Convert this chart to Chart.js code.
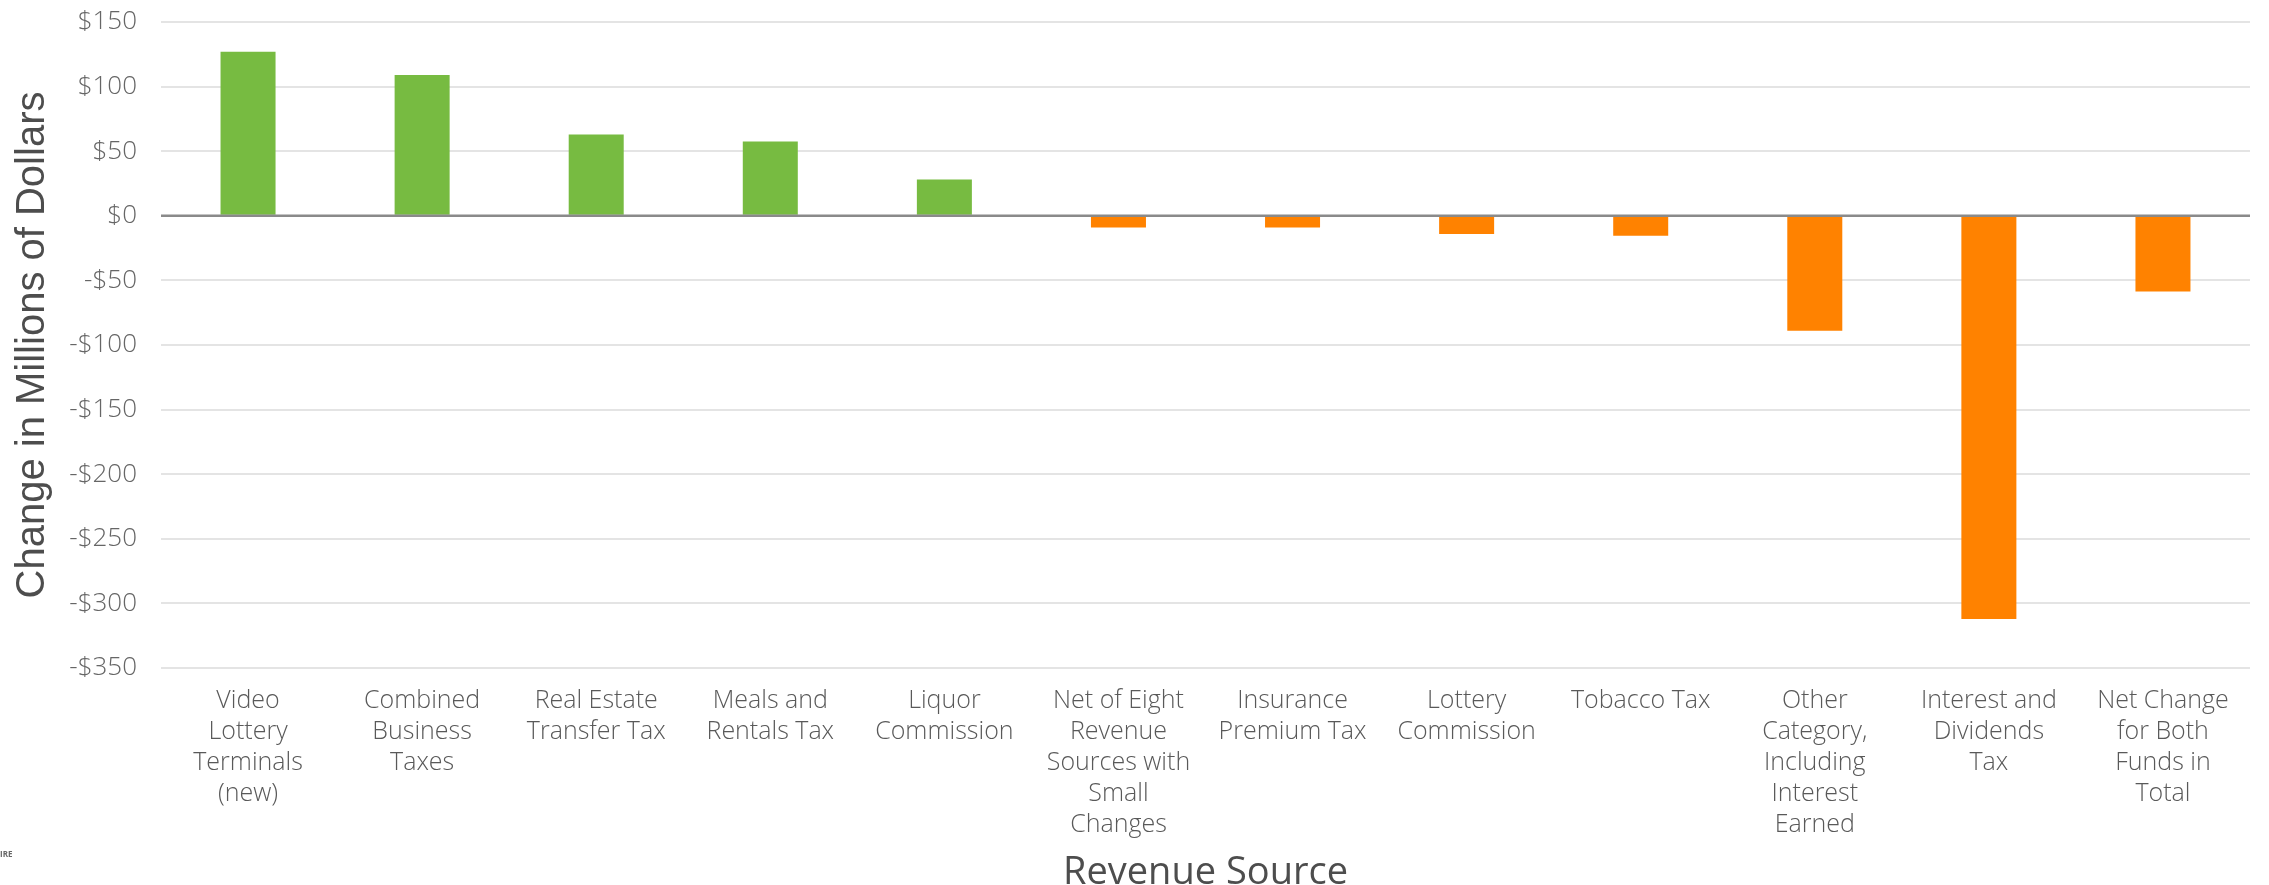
<!DOCTYPE html>
<html>
<head>
<meta charset="utf-8">
<script src="https://cdn.jsdelivr.net/npm/chart.js@4"></script>
<style>
  html, body { margin: 0; padding: 0; background: #fff; }
  #wrap { position: relative; width: 2269px; height: 885px; }
</style>
</head>
<body>
<div id="wrap"><canvas id="revenueChart"></canvas></div>
<script>
// revenue change by source, millions of dollars
const sourceLabels = [
    ['Video', 'Lottery', 'Terminals', '(new)'],
    ['Combined', 'Business', 'Taxes'],
    ['Real Estate', 'Transfer Tax'],
    ['Meals and', 'Rentals Tax'],
    ['Liquor', 'Commission'],
    ['Net of Eight', 'Revenue', 'Sources with', 'Small', 'Changes'],
    ['Insurance', 'Premium Tax'],
    ['Lottery', 'Commission'],
    ['Tobacco Tax'],
    ['Other', 'Category,', 'Including', 'Interest', 'Earned'],
    ['Interest and', 'Dividends', 'Tax'],
    ['Net Change', 'for Both', 'Funds in', 'Total']
];
const changeValues = [127, 109, 63, 57.5, 28, -9, -9, -14, -15.5, -89, -312, -58.5];

const yMin = -350;
const yMax = 150;
const yStep = 50;

const gainColor = '#77BB41';
const lossColor = '#FF8200';

// zero line sits on top of the bars
const zeroLine = {
    id: 'zeroLine',
    afterDatasetsDraw(chart) {
        const { ctx, chartArea, scales } = chart;
        const y = scales.y.getPixelForValue(0);
        ctx.save();
        ctx.strokeStyle = '#8a8a8a';
        ctx.lineWidth = 2.5;
        ctx.beginPath();
        ctx.moveTo(chartArea.left, y);
        ctx.lineTo(chartArea.right, y);
        ctx.stroke();
        ctx.restore();
    }
};

// leftover piece of the footer logo
const footerMark = {
    id: 'footerMark',
    afterDraw(chart) {
        const ctx = chart.ctx;
        ctx.save();
        ctx.fillStyle = '#666';
        ctx.font = 'bold 8px "Open Sans", sans-serif';
        ctx.textBaseline = 'alphabetic';
        ctx.fillText('IRE', 0, 857);
        ctx.restore();
    }
};

new Chart(document.getElementById('revenueChart'), {
    type: 'bar',
    data: {
        labels: sourceLabels,
        datasets: [{
            data: changeValues,
            backgroundColor: changeValues.map(v => v >= 0 ? gainColor : lossColor),
            borderWidth: 0,
            barPercentage: 0.316,
            categoryPercentage: 1
        }]
    },
    options: {
        responsive: true,
        maintainAspectRatio: false,
        animation: false,
        layout: { padding: { top: 22, right: 19, left: 0, bottom: 0 } },
        plugins: {
            legend: { display: false },
            tooltip: { enabled: false }
        },
        scales: {
            x: {
                grid: { display: false, drawTicks: false },
                border: { display: false },
                ticks: {
                    autoSkip: false,
                    maxRotation: 0,
                    minRotation: 0,
                    padding: 17,
                    color: '#595959',
                    font: { family: '"Open Sans", sans-serif', size: 25, weight: '300', lineHeight: 1.24 }
                },
                title: {
                    display: true,
                    text: 'Revenue Source',
                    color: '#4d4d4d',
                    padding: { top: 0, bottom: -7 },
                    font: { family: '"Open Sans", sans-serif', size: 38, weight: '500', lineHeight: 1 }
                },
                afterFit(scale) { scale.height = 217; }
            },
            y: {
                min: yMin,
                max: yMax,
                grid: { color: '#e4e4e4', lineWidth: 2, drawTicks: false },
                border: { display: false },
                ticks: {
                    stepSize: yStep,
                    padding: 24,
                    color: '#666',
                    font: { family: '"Open Sans", sans-serif', size: 26, weight: '300' },
                    callback: v => (v < 0 ? '-$' : '$') + Math.abs(v)
                },
                title: {
                    display: true,
                    text: 'Change in Millions of Dollars',
                    color: '#4d4d4d',
                    padding: { top: 9, bottom: 0 },
                    font: { family: '"Liberation Sans Narrow", "Arial Narrow", sans-serif', size: 40, weight: 'normal', lineHeight: 1.2 }
                },
                afterFit(scale) {
                    scale.width = 161;
                    // tick padding should only push labels sideways, not shrink the plot
                    scale.paddingTop = 0;
                    scale.paddingBottom = 0;
                }
            }
        }
    },
    plugins: [zeroLine, footerMark]
});
</script>
</body>
</html>
